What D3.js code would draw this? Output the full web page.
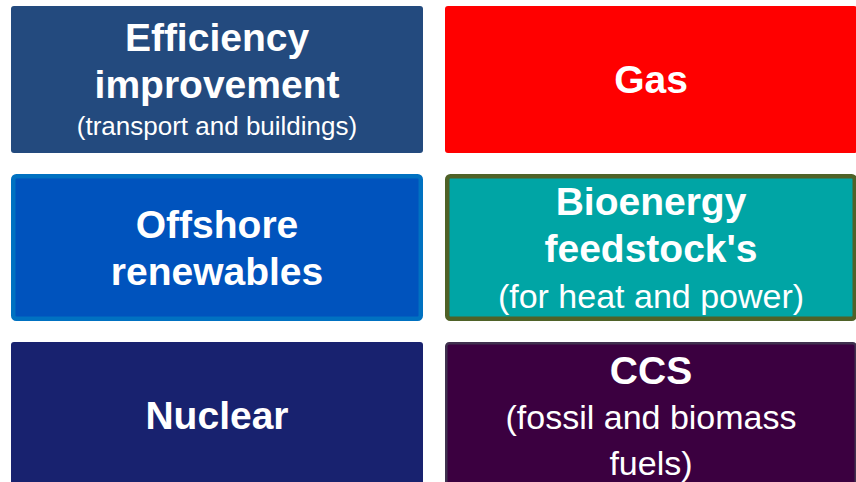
<!DOCTYPE html>
<html>
<head>
<meta charset="utf-8">
<script src="https://cdn.jsdelivr.net/npm/d3@7"></script>
<style>
  html, body { margin: 0; padding: 0; background: #fff; }
  svg { display: block; }
</style>
</head>
<body>
<div id="chart"></div>
<script>
/* the six boxes, read left to right, top to bottom */
var titles = ["Efficiency\nimprovement", "Gas", "Offshore\nrenewables",
              "Bioenergy\nfeedstock's", "Nuclear", "CCS"];
var notes = ["(transport and buildings)", "", "", "(for heat and power)",
             "", "(fossil and biomass\nfuels)"];
var rows = [0, 0, 1, 1, 2, 2];
var cols = [0, 1, 0, 1, 0, 1];

/* colours of each box */
var fills   = ["#234a7e", "#ff0000", "#0053bd", "#00a5a5", "#18226f", "#3b0040"];
var strokes = [null, null, "#0071c1", "#4f6228", null, "#40314f"];
var strokeW = [0, 0, 4.5, 4.5, 0, 2.5];
var smallNote = [true, false, false, false, false, false];

var width = 856, height = 482;

var svg = d3.select("#chart").append("svg")
    .attr("width", width)
    .attr("height", height);

/* grid: boxes run off the right and bottom edges */
var x = d3.scaleBand().domain([0, 1]).range([11, 857]).paddingInner(22 / 434);
var y = d3.scaleBand().domain([0, 1, 2]).range([6, 489]).paddingInner(21 / 168);

var boxes = titles.map(function(t, i) {
  var lines = t.split("\n").map(function(s) {
    return {text: s, size: 39, weight: "bold", lead: 47};
  });
  if (notes[i]) {
    notes[i].split("\n").forEach(function(s) {
      lines.push(smallNote[i] ? {text: s, size: 26, weight: "normal", lead: 37}
                              : {text: s, size: 34, weight: "normal", lead: 45.5});
    });
  }
  return {i: i, lines: lines};
});

var g = svg.selectAll("g.box")
  .data(boxes)
  .enter().append("g")
    .attr("class", "box")
    .attr("transform", function(d) {
      return "translate(" + x(cols[d.i]) + "," + y(rows[d.i]) + ")";
    });

g.append("rect")
    .attr("x", function(d) { return strokeW[d.i] / 2; })
    .attr("y", function(d) { return strokeW[d.i] / 2; })
    .attr("width", function(d) { return x.bandwidth() - strokeW[d.i]; })
    .attr("height", function(d) { return y.bandwidth() - strokeW[d.i]; })
    .attr("rx", 3)
    .style("fill", function(d) { return fills[d.i]; })
    .style("stroke", function(d) { return strokes[d.i] || "none"; })
    .style("stroke-width", function(d) { return strokeW[d.i]; });

/* text centred between the first cap top and the last baseline */
g.each(function(d) {
  var baselines = [], b = 0;
  d.lines.forEach(function(l, k) {
    if (k > 0) b += l.lead;
    baselines.push(b);
  });
  var cap = 0.716 * d.lines[0].size;
  var span = cap + b;
  var top = y.bandwidth() / 2 - span / 2 + cap;

  d3.select(this).selectAll("text")
    .data(d.lines)
    .enter().append("text")
      .attr("x", x.bandwidth() / 2)
      .attr("y", function(l, k) { return top + baselines[k]; })
      .attr("text-anchor", "middle")
      .style("font-family", "'Liberation Sans', Arial, sans-serif")
      .style("font-size", function(l) { return l.size + "px"; })
      .style("font-weight", function(l) { return l.weight; })
      .style("fill", "#fff")
      .text(function(l) { return l.text; });
});
</script>
</body>
</html>
